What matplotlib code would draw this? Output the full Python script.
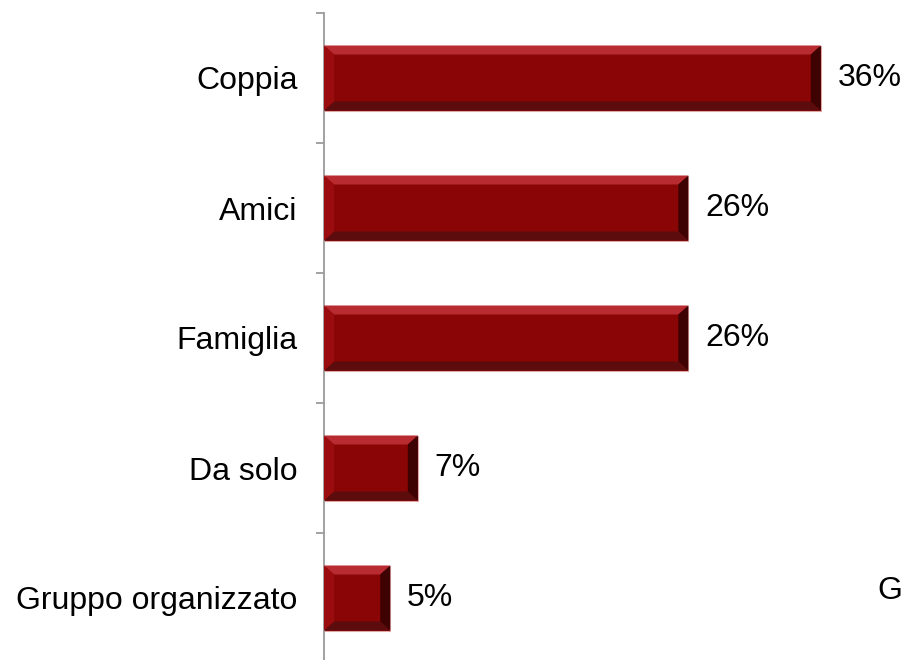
import matplotlib.pyplot as plt
from matplotlib.patches import Polygon

# Datos
categorias = ['Coppia', 'Amici', 'Famiglia', 'Da solo', 'Gruppo organizzato']
valores = [36.0, 26.4, 26.4, 6.8, 4.8]
etiquetas = ['36%', '26%', '26%', '7%', '5%']

plt.rcParams['font.family'] = ['Liberation Sans', 'DejaVu Sans']

fig = plt.figure(figsize=(9.08, 6.6), dpi=100)
ax = fig.add_axes([324 / 908, -3 / 660, 552 / 908, 650 / 660])

posiciones = list(range(len(categorias)))
alto = 0.5
ax.barh(posiciones, valores, height=alto, color='#8A0505',
        edgecolor='#E3A6A6', linewidth=0.8, zorder=2)

ax.set_xlim(0, 40)
ax.set_ylim(-0.5, len(categorias) - 0.5)
ax.invert_yaxis()

# Efecto biselado (aprox. 10 px)
px_x = 552 / 40.0
px_y = 650 / 5.0
dx = 10 / px_x
dy = 9 / px_y
for y, v, etq in zip(posiciones, valores, etiquetas):
    top = y - alto / 2
    bot = y + alto / 2
    caras = [
        ([(0, top), (v, top), (v - dx, top + dy), (dx, top + dy)], '#B82C31'),
        ([(0, bot), (v, bot), (v - dx, bot - dy), (dx, bot - dy)], '#5C0C0C'),
        ([(0, top), (dx, top + dy), (dx, bot - dy), (0, bot)], '#9A0C0E'),
        ([(v, top), (v - dx, top + dy), (v - dx, bot - dy), (v, bot)], '#3E0202'),
    ]
    for puntos, c in caras:
        ax.add_patch(Polygon(puntos, closed=True, facecolor=c,
                             edgecolor='none', zorder=3))
    ax.text(v + 17 / px_x, y, etq, va='center', ha='left',
            fontsize=23, color='black')

# Ejes
for lado in ['top', 'right', 'bottom']:
    ax.spines[lado].set_visible(False)
ax.spines['left'].set_color('#9A9A9A')
ax.spines['left'].set_linewidth(1.3)
ax.set_xticks([])
ax.set_yticks(posiciones)
ax.set_yticklabels(categorias, fontsize=23)
ax.tick_params(axis='y', which='major', length=0, pad=19)
ax.set_yticks([p - 0.5 for p in posiciones] + [len(categorias) - 0.5], minor=True)
ax.tick_params(axis='y', which='minor', length=6, width=1.3, color='#9A9A9A')

fig.text(877 / 908, 1 - 591 / 660, 'G', fontsize=23, va='center', ha='left')

plt.savefig('out.png', dpi=100)
plt.close()
